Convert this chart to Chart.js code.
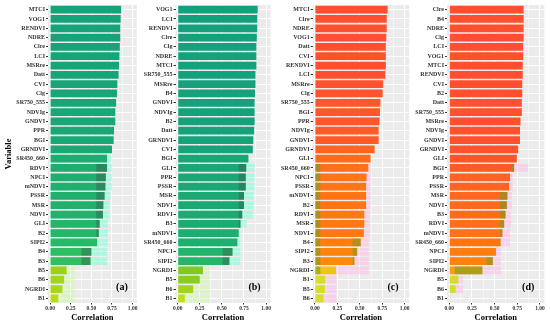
<!DOCTYPE html>
<html>
<head>
<meta charset="utf-8">
<script src="https://cdn.jsdelivr.net/npm/chart.js@4.4.0/dist/chart.umd.min.js"></script>
<style>
html, body { margin: 0; padding: 0; background: #fff; }
#wrap { position: relative; width: 550px; height: 327px; overflow: hidden; }
.panel { position: absolute; top: 0; height: 327px; }
</style>
</head>
<body>
<div id="wrap">
  <div class="panel" style="left:0;width:138px"><canvas id="chartA"></canvas></div>
  <div class="panel" style="left:138px;width:134px"><canvas id="chartB"></canvas></div>
  <div class="panel" style="left:272px;width:138px"><canvas id="chartC"></canvas></div>
  <div class="panel" style="left:410px;width:140px"><canvas id="chartD"></canvas></div>
</div>
<script>
// Data (correlation per variable, sorted per panel)
const labelsA = ['MTCI', 'VOG1', 'RENDVI', 'NDRE', 'Clre', 'LCI', 'MSRre', 'Datt', 'CVI', 'Clg', 'SR750_555', 'NDVIg', 'GNDVI', 'PPR', 'BGI', 'GRNDVI', 'SR450_660', 'RDVI', 'NPCI', 'mNDVI', 'PSSR', 'MSR', 'NDVI', 'GLI', 'B2', 'SIPI2', 'B4', 'B3', 'B5', 'B6', 'NGRDI', 'B1'];
const valuesA = [0.86, 0.855, 0.85, 0.85, 0.845, 0.84, 0.835, 0.83, 0.815, 0.81, 0.80, 0.79, 0.79, 0.775, 0.77, 0.75, 0.69, 0.69, 0.675, 0.67, 0.66, 0.645, 0.64, 0.60, 0.59, 0.57, 0.50, 0.49, 0.20, 0.17, 0.15, 0.10];
const ghostA = [null, null, null, null, null, null, null, null, null, null, null, null, null, null, null, null, 0.74, 0.75, 0.75, 0.75, 0.73, 0.72, 0.72, 0.70, 0.70, 0.70, 0.69, 0.69, 0.30, 0.30, 0.30, 0.30];
const tailA = [null, null, null, null, null, null, null, null, null, null, null, null, null, null, null, null, null, 0.56, 0.56, 0.56, 0.56, 0.56, 0.56, 0.56, 0.56, null, 0.38, 0.38, null, null, null, null];

const labelsB = ['VOG1', 'LCI', 'RENDVI', 'Clre', 'Clg', 'NDRE', 'MTCI', 'SR750_555', 'MSRre', 'B4', 'GNDVI', 'NDVIg', 'B2', 'Datt', 'GRNDVI', 'CVI', 'BGI', 'GLI', 'PPR', 'PSSR', 'MSR', 'NDVI', 'RDVI', 'B3', 'mNDVI', 'SR450_660', 'NPCI', 'SIPI2', 'NGRDI', 'B5', 'B6', 'B1'];
const valuesB = [0.905, 0.90, 0.90, 0.895, 0.89, 0.89, 0.89, 0.88, 0.88, 0.875, 0.87, 0.87, 0.87, 0.865, 0.855, 0.85, 0.80, 0.775, 0.77, 0.77, 0.75, 0.75, 0.73, 0.71, 0.69, 0.675, 0.62, 0.585, 0.285, 0.25, 0.175, 0.08];
const ghostB = [null, null, null, null, null, null, null, null, null, null, null, null, null, null, null, null, null, 0.87, 0.87, 0.87, 0.86, 0.86, 0.85, 0.78, 0.71, 0.71, 0.71, 0.71, 0.36, 0.36, 0.36, 0.36];
const tailB = [null, null, null, null, null, null, null, null, null, null, null, null, null, null, null, null, null, 0.69, 0.69, 0.69, 0.69, 0.69, 0.69, 0.69, null, null, 0.51, 0.51, null, null, null, null];

const labelsC = ['MTCI', 'Clre', 'NDRE', 'VOG1', 'Datt', 'CVI', 'RENDVI', 'LCI', 'MSRre', 'Clg', 'SR750_555', 'BGI', 'PPR', 'NDVIg', 'GNDVI', 'GRNDVI', 'GLI', 'SR450_660', 'NPCI', 'PSSR', 'mNDVI', 'B2', 'RDVI', 'MSR', 'NDVI', 'B4', 'SIPI2', 'B3', 'NGRDI', 'B1', 'B5', 'B6'];
const valuesC = [0.81, 0.80, 0.80, 0.795, 0.79, 0.79, 0.79, 0.785, 0.76, 0.755, 0.73, 0.725, 0.72, 0.71, 0.71, 0.665, 0.62, 0.595, 0.575, 0.57, 0.57, 0.57, 0.55, 0.55, 0.545, 0.51, 0.47, 0.44, 0.235, 0.115, 0.11, 0.095];
const ghostC = [null, null, null, null, null, null, null, null, null, null, null, null, null, null, null, null, null, 0.62, 0.62, 0.62, 0.62, 0.62, 0.61, 0.61, 0.61, 0.60, 0.60, 0.60, 0.60, 0.24, 0.24, 0.24];
const tailC = [null, null, null, null, null, null, null, null, null, null, null, null, null, null, null, null, null, null, null, null, null, null, null, null, null, 0.42, 0.42, 0.42, null, null, null, null];
const headC = [null, null, null, null, null, null, null, null, null, null, null, null, null, null, null, null, null, 0.06, 0.06, 0.06, 0.06, 0.06, 0.06, 0.06, 0.06, 0.06, 0.06, 0.06, 0.06, null, null, null];

const labelsD = ['Clre', 'B4', 'NDRE', 'Clg', 'LCI', 'VOG1', 'MTCI', 'RENDVI', 'CVI', 'B2', 'Datt', 'SR750_555', 'MSRre', 'NDVIg', 'GNDVI', 'GRNDVI', 'GLI', 'BGI', 'PPR', 'PSSR', 'MSR', 'NDVI', 'B3', 'RDVI', 'mNDVI', 'SR450_660', 'NPCI', 'SIPI2', 'NGRDI', 'B5', 'B6', 'B1'];
const valuesD = [0.82, 0.82, 0.82, 0.82, 0.815, 0.815, 0.81, 0.81, 0.805, 0.805, 0.80, 0.80, 0.785, 0.78, 0.78, 0.76, 0.745, 0.715, 0.67, 0.66, 0.64, 0.635, 0.62, 0.605, 0.585, 0.565, 0.515, 0.48, 0.365, 0.10, 0.07, 0.01];
const ghostD = [null, null, null, null, null, null, null, null, null, null, null, null, null, null, null, null, null, 0.87, 0.70, 0.70, 0.69, 0.69, 0.68, 0.68, 0.67, 0.67, 0.57, 0.57, 0.57, 0.15, 0.15, null];
const tailD = [null, null, null, null, null, null, null, null, null, null, null, null, null, null, null, null, null, 0.69, null, null, 0.56, 0.56, 0.56, 0.56, 0.56, 0.56, null, 0.41, 0.06, null, null, null];

const xTicks = [0, 0.25, 0.5, 0.75, 1];

// colour ramps (value -> rgb)
const greenStops = [[0.05, [200, 225, 20]], [0.3, [120, 200, 35]], [0.5, [45, 190, 100]], [0.7, [28, 172, 112]], [0.9, [20, 160, 125]]];
const orangeStops = [[0.05, [205, 222, 45]], [0.15, [222, 222, 40]], [0.25, [250, 188, 15]], [0.45, [255, 135, 10]], [0.6, [255, 112, 22]], [0.75, [255, 82, 45]], [0.9, [255, 75, 50]]];

function ramp(stops, v) {
    if (v <= stops[0][0]) return 'rgb(' + stops[0][1].join(',') + ')';
    for (let i = 1; i < stops.length; i++) {
        if (v <= stops[i][0]) {
            const t = (v - stops[i - 1][0]) / (stops[i][0] - stops[i - 1][0]);
            const c = stops[i - 1][1].map((a, k) => Math.round(a + (stops[i][1][k] - a) * t));
            return 'rgb(' + c.join(',') + ')';
        }
    }
    return 'rgb(' + stops[stops.length - 1][1].join(',') + ')';
}

const serif = "'Liberation Serif', 'DejaVu Serif', serif";

// grey ggplot-like panel + panel letter
const panelPlugin = {
    id: 'panelBg',
    beforeDraw(chart) {
        const a = chart.chartArea;
        const ctx = chart.ctx;
        ctx.save();
        ctx.fillStyle = '#ebebeb';
        ctx.fillRect(a.left, a.top, a.right - a.left, a.bottom - a.top);
        ctx.restore();
    },
    afterDraw(chart, args, opts) {
        const ctx = chart.ctx;
        const x = chart.scales.x.getPixelForValue(opts.x);
        const y = chart.scales.y.getPixelForValue(opts.y);
        ctx.save();
        ctx.font = 'bold 10px ' + serif;
        ctx.fillStyle = '#000';
        ctx.textAlign = 'center';
        ctx.textBaseline = 'middle';
        ctx.fillText(opts.text, x, y);
        ctx.restore();
    }
};

function buildChart(id, labels, values, ghost, tail, head, o) {
    const green = o.palette === 'green';
    const stops = green ? greenStops : orangeStops;
    const overlay = green ? 'rgba(70,70,70,0.35)' : 'rgba(110,160,40,0.55)';
    const common = { grouped: false, barPercentage: 0.83, categoryPercentage: 1, borderWidth: 0 };

    const datasets = [
        Object.assign({
            label: 'ghost',
            data: ghost,
            order: 3,
            backgroundColor: ghost.map(v => green
                ? (v !== null && v < 0.4 ? 'rgba(205,250,165,0.5)' : 'rgba(120,255,215,0.5)')
                : 'rgba(255,190,230,0.55)')
        }, common),
        Object.assign({
            label: 'Correlation',
            data: values,
            order: 2,
            backgroundColor: values.map(v => ramp(stops, v))
        }, common),
        Object.assign({
            label: 'tail',
            data: tail.map((s, i) => s === null ? null : [s, values[i]]),
            order: 1,
            backgroundColor: overlay
        }, common)
    ];
    if (head) {
        datasets.push(Object.assign({
            label: 'head',
            data: head.map(e => e === null ? null : [0, e]),
            order: 1,
            backgroundColor: overlay
        }, common));
    }

    return new Chart(document.getElementById(id), {
        type: 'bar',
        data: { labels: labels, datasets: datasets },
        plugins: [panelPlugin],
        options: {
            indexAxis: 'y',
            responsive: true,
            maintainAspectRatio: false,
            animation: false,
            layout: { padding: { top: 5, right: o.padRight, left: 0, bottom: 0 } },
            plugins: {
                legend: { display: false },
                tooltip: { enabled: false },
                panelBg: { text: o.letter, x: 0.87, y: 29.8 }
            },
            scales: {
                x: {
                    type: 'linear',
                    min: -0.025,
                    max: 1.05,
                    afterBuildTicks: scale => {
                        const t = [];
                        xTicks.forEach((v, i) => {
                            t.push({ value: v });
                            if (i < xTicks.length - 1) t.push({ value: (v + xTicks[i + 1]) / 2 });
                        });
                        scale.ticks = t;
                    },
                    afterFit: scale => { scale.height = 24; },
                    border: { display: false },
                    grid: {
                        color: '#ffffff',
                        lineWidth: c => (xTicks.includes(c.tick.value) ? 1 : 0.5),
                        tickLength: 1.5,
                        tickColor: c => (xTicks.includes(c.tick.value) ? '#333' : 'rgba(0,0,0,0)')
                    },
                    ticks: {
                        autoSkip: false,
                        maxRotation: 0,
                        padding: 0.5,
                        color: '#333',
                        font: { family: serif, size: 5.5, weight: 'bold' },
                        callback: v => (xTicks.includes(v) ? v.toFixed(2) : '')
                    },
                    title: {
                        display: true,
                        text: 'Correlation',
                        color: '#000',
                        padding: { top: 0, bottom: 4 },
                        font: { family: serif, size: 8.5, weight: 'bold' }
                    }
                },
                y: {
                    type: 'category',
                    afterFit: scale => { scale.width = o.axisWidth; },
                    border: { display: false },
                    grid: {
                        offset: false,
                        color: '#ffffff',
                        lineWidth: 1,
                        tickLength: 2,
                        tickColor: '#333'
                    },
                    ticks: {
                        autoSkip: false,
                        padding: 1,
                        color: '#333',
                        font: { family: serif, size: 6, weight: 'bold' }
                    },
                    title: {
                        display: o.yTitle,
                        text: 'Variable',
                        color: '#000',
                        padding: { top: 4, bottom: 0 },
                        font: { family: serif, size: 8.5, weight: 'bold' }
                    }
                }
            }
        }
    });
}

buildChart('chartA', labelsA, valuesA, ghostA, tailA, null, { palette: 'green', axisWidth: 48, padRight: 1, letter: '(a)', yTitle: true });
buildChart('chartB', labelsB, valuesB, ghostB, tailB, null, { palette: 'green', axisWidth: 37.5, padRight: 1.5, letter: '(b)', yTitle: false });
buildChart('chartC', labelsC, valuesC, ghostC, tailC, headC, { palette: 'orange', axisWidth: 40.7, padRight: 0.5, letter: '(c)', yTitle: false });
buildChart('chartD', labelsD, valuesD, ghostD, tailD, null, { palette: 'orange', axisWidth: 37, padRight: 5.5, letter: '(d)', yTitle: false });
</script>
</body>
</html>
